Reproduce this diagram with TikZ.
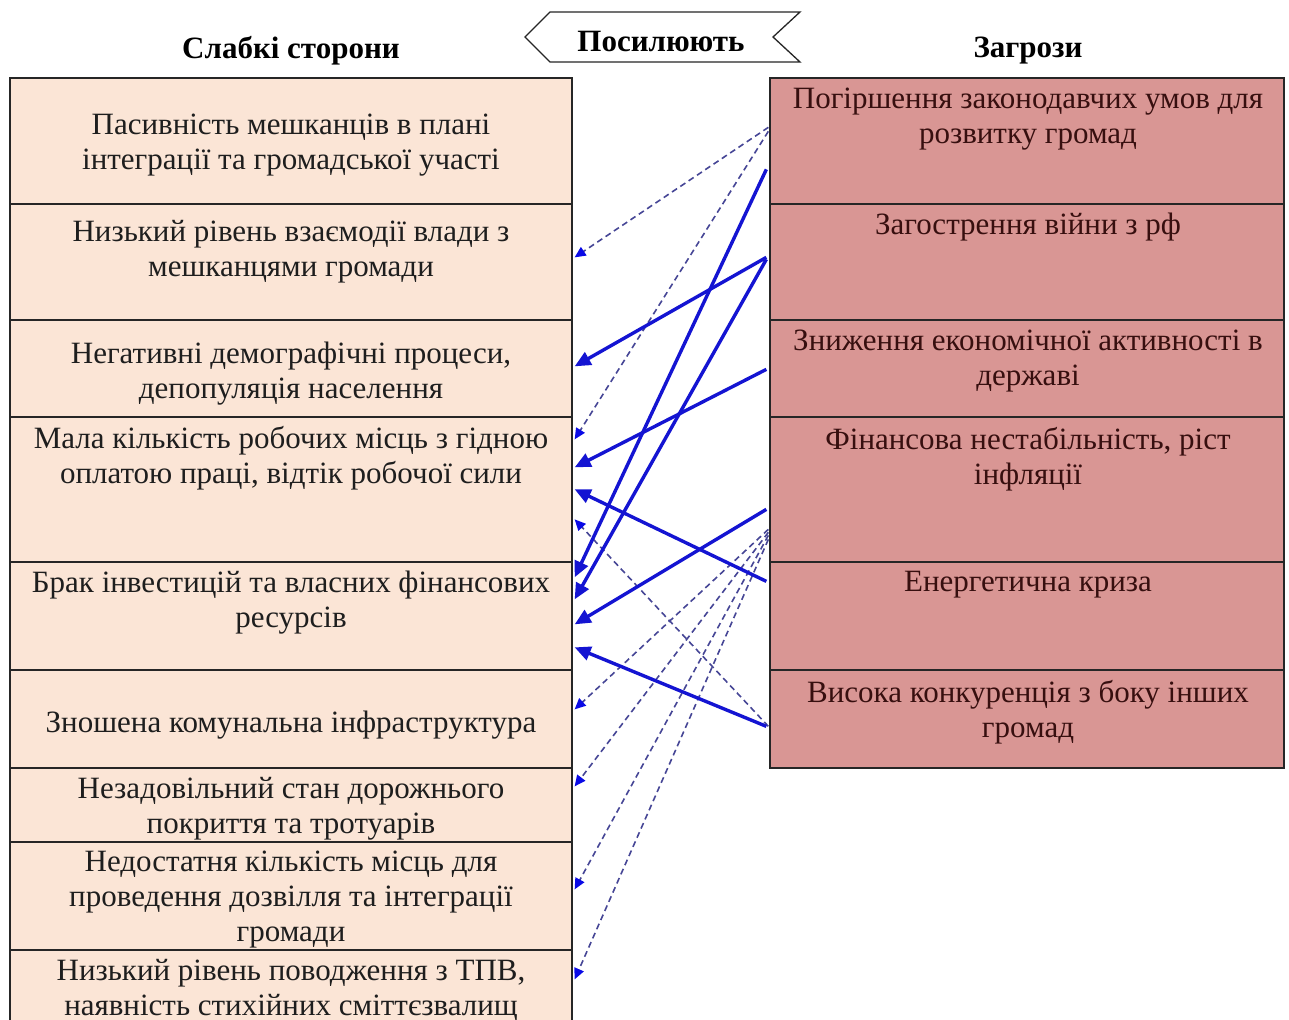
\documentclass[tikz,border=0pt]{standalone}
\usepackage{fontspec}
\setmainfont{Liberation Serif}
\usetikzlibrary{arrows.meta,calc}
\definecolor{lfill}{RGB}{251,229,214}
\definecolor{rfill}{RGB}{217,150,148}
\definecolor{ltext}{RGB}{30,30,30}
\definecolor{rtext}{RGB}{55,15,15}
\definecolor{sblue}{RGB}{20,20,210}
\definecolor{dblue}{RGB}{70,70,150}
\definecolor{tipblue}{RGB}{10,10,230}
\begin{document}
\begin{tikzpicture}[x=1pt,y=-1pt,
  lbox/.style={draw=black!85,line width=1.3pt,fill=lfill,minimum width=562pt,inner sep=0pt},
  rbox/.style={draw=black!85,line width=1.3pt,fill=rfill,minimum width=514pt,inner sep=0pt},
  ltxt/.style={align=center,font=\fontsize{31}{35}\selectfont,text=ltext,inner sep=0pt},
  rtxt/.style={align=center,font=\fontsize{31}{35}\selectfont,text=rtext,inner sep=0pt},
  head/.style={font=\fontsize{31}{35}\selectfont\bfseries,text=black,inner sep=0pt},
  solidarr/.style={draw=sblue,line width=3.4pt,-{Triangle[length=16pt,width=14pt,color=sblue]}},
  dasharr/.style={draw=dblue,line width=1.6pt,dash pattern=on 6pt off 4pt,-{Triangle[length=11pt,width=10pt,color=tipblue]}}
]
\useasboundingbox (0,0) rectangle (1289,1019);
\clip (0,0) rectangle (1289,1019);
\fill[white] (0,0) rectangle (1289,1019);

% headers
\node[head] (hw) at (291,51) {Слабкі сторони};
\node[head] (ht) at (1028,51) {Загрози};
\draw[line width=1.3pt,draw=black!85,fill=white] (525,37) -- (550,12) -- (800,12) -- (773,37) -- (800,62) -- (550,62) -- cycle;
\node[head] (hp) at (661,42) {Посилюють};

% left boxes
\node[lbox,minimum height=126pt] (L1) at (291,141) {};
\node[lbox,minimum height=116pt] (L2) at (291,262) {};
\node[lbox,minimum height=97pt] (L3) at (291,368.5) {};
\node[lbox,minimum height=145pt] (L4) at (291,489.5) {};
\node[lbox,minimum height=108pt] (L5) at (291,616) {};
\node[lbox,minimum height=98pt] (L6) at (291,719) {};
\node[lbox,minimum height=74pt] (L7) at (291,805) {};
\node[lbox,minimum height=108pt] (L8) at (291,896) {};
\node[lbox,minimum height=90pt] (L9) at (291,995) {};

% right boxes
\node[rbox,minimum height=126pt] (R1) at (1027,141) {};
\node[rbox,minimum height=116pt] (R2) at (1027,262) {};
\node[rbox,minimum height=97pt] (R3) at (1027,368.5) {};
\node[rbox,minimum height=145pt] (R4) at (1027,489.5) {};
\node[rbox,minimum height=108pt] (R5) at (1027,616) {};
\node[rbox,minimum height=98pt] (R6) at (1027,719) {};

% left texts
\node[ltxt] (L1t) at (291,145) {Пасивність мешканців в плані\\інтеграції та громадської участі};
\node[ltxt] (L2t) at (291,252) {Низький рівень взаємодії влади з\\мешканцями громади};
\node[ltxt] (L3t) at (291,374) {Негативні демографічні процеси,\\депопуляція населення};
\node[ltxt] (L4t) at (291,458) {Мала кількість робочих місць з гідною\\оплатою праці, відтік робочої сили};
\node[ltxt] (L5t) at (291,603) {Брак інвестицій та власних фінансових\\ресурсів};
\node[ltxt] (L6t) at (291,725) {Зношена комунальна інфраструктура};
\node[ltxt] (L7t) at (291,809) {Незадовільний стан дорожнього\\покриття та тротуарів};
\node[ltxt] (L8t) at (291,900) {Недостатня кількість місць для\\проведення дозвілля та інтеграції\\громади};
\node[ltxt] (L9t) at (291,991) {Низький рівень поводження з ТПВ,\\наявність стихійних сміттєзвалищ};

% right texts
\node[rtxt] (R1t) at (1028,119) {Погіршення законодавчих умов для\\розвитку громад};
\node[rtxt] (R2t) at (1028,227) {Загострення війни з рф};
\node[rtxt] (R3t) at (1028,361) {Зниження економічної активності в\\державі};
\node[rtxt] (R4t) at (1028,459) {Фінансова нестабільність, ріст\\інфляції};
\node[rtxt] (R5t) at (1028,585) {Енергетична криза};
\node[rtxt] (R6t) at (1028,712) {Висока конкуренція з боку інших\\громад};

% connector end points
\coordinate (d1s) at ($(R1.north west)+(-1,50)$);
\coordinate (d1e) at ($(L2.north east)+(2,54)$);
\coordinate (d2s) at ($(R1.north west)+(-1,54)$);
\coordinate (d2e) at ($(L4.north east)+(2,23)$);
\coordinate (d3s) at ($(R6.north west)+(-1,57)$);
\coordinate (d3e) at ($(L4.north east)+(2,103)$);
\coordinate (d4s) at ($(R4.north west)+(-1,113)$);
\coordinate (d4e) at ($(L6.north east)+(2,40)$);
\coordinate (d5s) at ($(R4.north west)+(-1,116)$);
\coordinate (d5e) at ($(L7.north east)+(2,19)$);
\coordinate (d6s) at ($(R4.north west)+(-1,119)$);
\coordinate (d6e) at ($(L8.north east)+(2,48)$);
\coordinate (d7s) at ($(R4.north west)+(-1,123)$);
\coordinate (d7e) at ($(L9.north east)+(2,30)$);

\coordinate (s1s) at ($(R1.north west)+(-3,92)$);
\coordinate (s1e) at ($(L5.north east)+(2,16)$);
\coordinate (s2s) at ($(R2.north west)+(-3,54)$);
\coordinate (s2e) at ($(L3.north east)+(2,47)$);
\coordinate (s3s) at ($(R2.north west)+(-3,56)$);
\coordinate (s3e) at ($(L5.north east)+(2,38)$);
\coordinate (s4s) at ($(R3.north west)+(-3,50)$);
\coordinate (s4e) at ($(L4.north east)+(2,51)$);
\coordinate (s5s) at ($(R4.north west)+(-3,93)$);
\coordinate (s5e) at ($(L5.north east)+(2,63)$);
\coordinate (s6s) at ($(R5.north west)+(-3,20)$);
\coordinate (s6e) at ($(L4.north east)+(2,73)$);
\coordinate (s7s) at ($(R6.north west)+(-3,57)$);
\coordinate (s7e) at ($(L5.north east)+(2,86)$);

% dashed connectors
\draw[dasharr] (d1s) -- (d1e);
\draw[dasharr] (d2s) -- (d2e);
\draw[dasharr] (d3s) -- (d3e);
\draw[dasharr] (d4s) -- (d4e);
\draw[dasharr] (d5s) -- (d5e);
\draw[dasharr] (d6s) -- (d6e);
\draw[dasharr] (d7s) -- (d7e);

% solid connectors
\draw[solidarr] (s1s) -- (s1e);
\draw[solidarr] (s2s) -- (s2e);
\draw[solidarr] (s3s) -- (s3e);
\draw[solidarr] (s4s) -- (s4e);
\draw[solidarr] (s5s) -- (s5e);
\draw[solidarr] (s6s) -- (s6e);
\draw[solidarr] (s7s) -- (s7e);
\end{tikzpicture}
\end{document}
